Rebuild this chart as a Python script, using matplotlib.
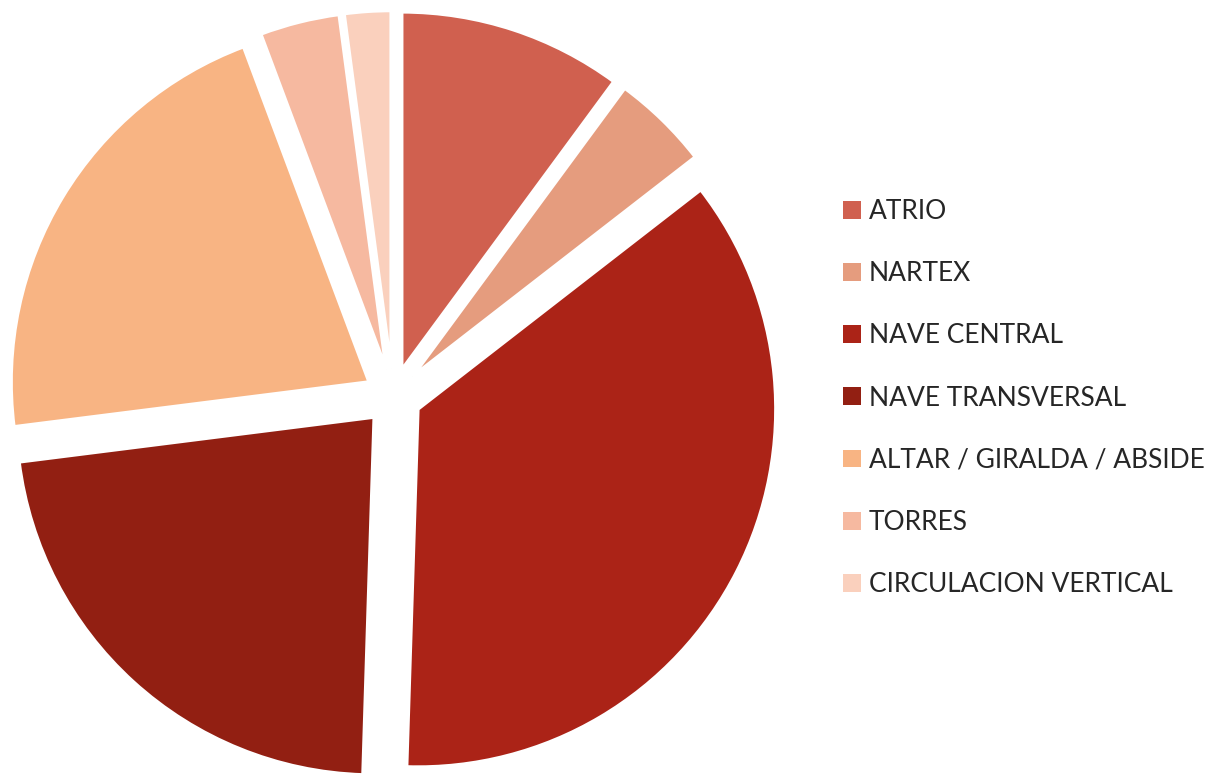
import matplotlib.pyplot as plt
from matplotlib.patches import Patch

# ── Data ──────────────────────────────────────────────────────────────────────
labels = ["ATRIO", "NARTEX", "NAVE CENTRAL", "NAVE TRANSVERSAL",
          "ALTAR / GIRALDA / ABSIDE", "TORRES", "CIRCULACION VERTICAL"]
shares = [10.1, 4.4, 36.0, 22.5, 21.3, 3.6, 2.1]
colors = ["#d0604f", "#e59c7e", "#ab2317", "#921f12",
          "#f8b483", "#f6b9a0", "#fad0bd"]

# ── Figure ────────────────────────────────────────────────────────────────────
W, H = 1218, 775
fig = plt.figure(figsize=(W / 100, H / 100), dpi=100)

# pie centre / radius in pixels
cx, cy, r = 393, 396.4, 358
half = 1.15 * r
ax = fig.add_axes([(cx - half) / W, (H - cy - half) / H, 2 * half / W, 2 * half / H])

wedges, _ = ax.pie(shares, colors=colors, startangle=90, counterclock=False,
                   explode=[0.078] * len(shares),
                   wedgeprops=dict(edgecolor="white", linewidth=2.5))
ax.set_xlim(-1.15, 1.15)
ax.set_ylim(-1.15, 1.15)
ax.set_aspect("equal")
ax.axis("off")

# ── Legend ────────────────────────────────────────────────────────────────────
handles = [Patch(facecolor=c, edgecolor="none") for c in colors]
fig.legend(handles, labels, loc="center left", bbox_to_anchor=(830 / W, 1 - 398 / H),
           frameon=False, borderpad=0, handlelength=0.66, handleheight=0.66,
           handletextpad=0.3, labelspacing=1.41, labelcolor="#262626",
           prop={"family": ["Lato", "DejaVu Sans"], "size": 19})

plt.savefig("out.png", dpi=100)
